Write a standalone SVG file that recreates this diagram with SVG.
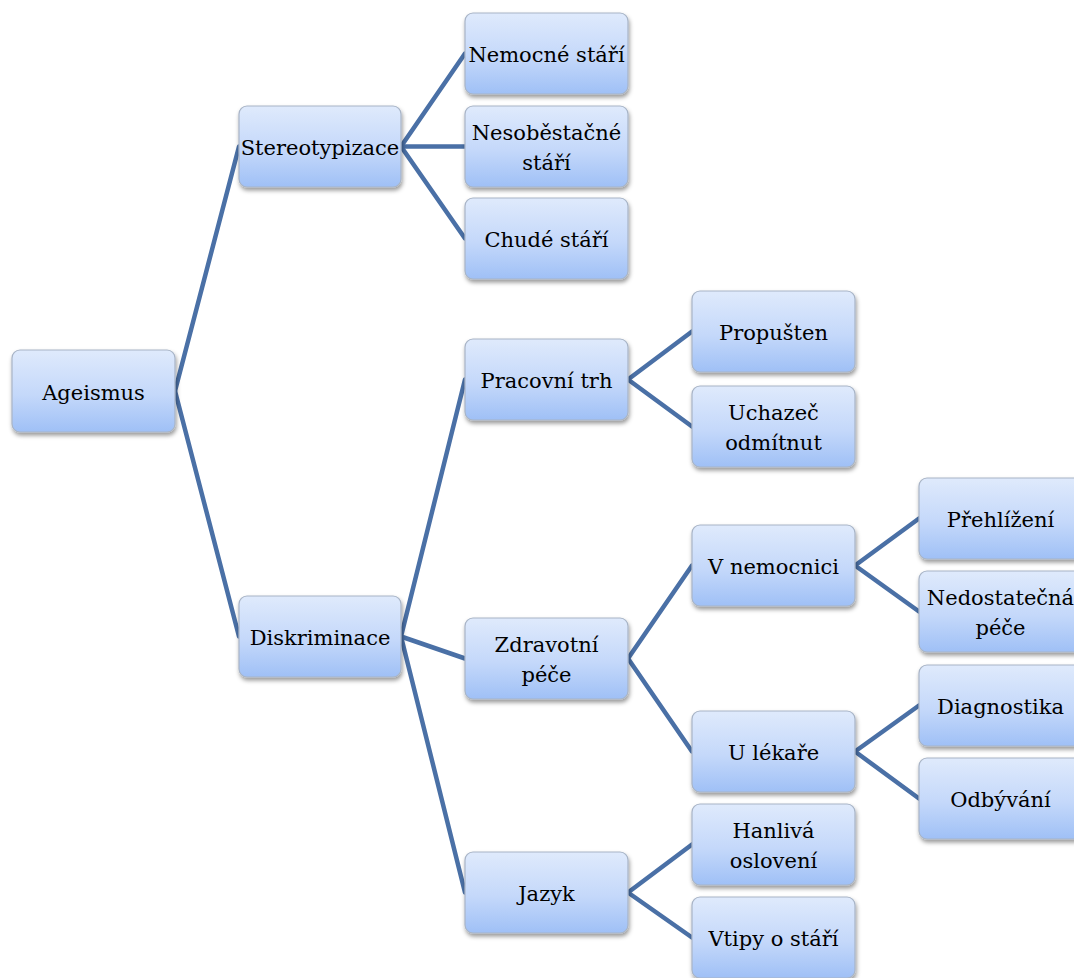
<svg xmlns="http://www.w3.org/2000/svg" width="1074" height="978" viewBox="0 0 1074 978">
<defs>
<linearGradient id="g" x1="0" y1="0" x2="0" y2="1">
<stop offset="0" stop-color="#dfeafc"/>
<stop offset="0.55" stop-color="#c4d8fa"/>
<stop offset="1" stop-color="#9fc0f6"/>
</linearGradient>
<filter id="sh" x="-10%" y="-10%" width="125%" height="135%">
<feDropShadow dx="1" dy="3" stdDeviation="2.2" flood-color="#000" flood-opacity="0.4"/>
</filter>
</defs>
<style>
.n rect{fill:url(#g);stroke:#a8b4c6;stroke-width:1.2;filter:url(#sh)}
.n text{font-family:"DejaVu Serif",serif;font-size:21px;fill:#000;text-anchor:middle}
.c line{stroke:#4a70a6;stroke-width:4.5;stroke-linecap:round}
</style>
<rect width="1074" height="978" fill="#fff"/>
<g class="c" id="connectors">
<line x1="175" y1="391" x2="239" y2="146.5"/>
<line x1="175" y1="391" x2="239" y2="636.5"/>
<line x1="401" y1="146.5" x2="465" y2="53.5"/>
<line x1="401" y1="146.5" x2="465" y2="146.5"/>
<line x1="401" y1="146.5" x2="465" y2="238.5"/>
<line x1="401" y1="636.5" x2="465" y2="379.5"/>
<line x1="401" y1="636.5" x2="465" y2="658.5"/>
<line x1="401" y1="636.5" x2="465" y2="892.5"/>
<line x1="628" y1="379.5" x2="692" y2="331.5"/>
<line x1="628" y1="379.5" x2="692" y2="426.5"/>
<line x1="628" y1="658.5" x2="692" y2="565.5"/>
<line x1="628" y1="658.5" x2="692" y2="751.5"/>
<line x1="628" y1="892.5" x2="692" y2="844.5"/>
<line x1="628" y1="892.5" x2="692" y2="937.5"/>
<line x1="855" y1="565.5" x2="919" y2="518.5"/>
<line x1="855" y1="565.5" x2="919" y2="611.5"/>
<line x1="855" y1="751.5" x2="919" y2="705.5"/>
<line x1="855" y1="751.5" x2="919" y2="798.5"/>
</g>
<g class="n" id="n-ageismus"><rect x="12" y="350" width="163" height="82" rx="8"/><text x="93.5" y="400">Ageismus</text></g>
<g class="n" id="n-stereotypizace"><rect x="239" y="106" width="162" height="81" rx="8"/><text x="320" y="155">Stereotypizace</text></g>
<g class="n" id="n-diskriminace"><rect x="239" y="596" width="162" height="81" rx="8"/><text x="320" y="645">Diskriminace</text></g>
<g class="n" id="n-nemocne"><rect x="465" y="13" width="163" height="81" rx="8"/><text x="546.5" y="62">Nemocné stáří</text></g>
<g class="n" id="n-nesobestacne"><rect x="465" y="106" width="163" height="81" rx="8"/><text x="546.5" y="140">Nesoběstačné</text><text x="546.5" y="170">stáří</text></g>
<g class="n" id="n-chude"><rect x="465" y="198" width="163" height="81" rx="8"/><text x="546.5" y="247">Chudé stáří</text></g>
<g class="n" id="n-pracovni"><rect x="465" y="339" width="163" height="81" rx="8"/><text x="546.5" y="388">Pracovní trh</text></g>
<g class="n" id="n-zdravotni"><rect x="465" y="618" width="163" height="81" rx="8"/><text x="546.5" y="652">Zdravotní</text><text x="546.5" y="682">péče</text></g>
<g class="n" id="n-jazyk"><rect x="465" y="852" width="163" height="81" rx="8"/><text x="546.5" y="901">Jazyk</text></g>
<g class="n" id="n-propusten"><rect x="692" y="291" width="163" height="81" rx="8"/><text x="773.5" y="340">Propušten</text></g>
<g class="n" id="n-uchazec"><rect x="692" y="386" width="163" height="81" rx="8"/><text x="773.5" y="420">Uchazeč</text><text x="773.5" y="450">odmítnut</text></g>
<g class="n" id="n-vnemocnici"><rect x="692" y="525" width="163" height="81" rx="8"/><text x="773.5" y="574">V nemocnici</text></g>
<g class="n" id="n-ulekare"><rect x="692" y="711" width="163" height="81" rx="8"/><text x="773.5" y="760">U lékaře</text></g>
<g class="n" id="n-hanliva"><rect x="692" y="804" width="163" height="81" rx="8"/><text x="773.5" y="838">Hanlivá</text><text x="773.5" y="868">oslovení</text></g>
<g class="n" id="n-vtipy"><rect x="692" y="897" width="163" height="81" rx="8"/><text x="773.5" y="946">Vtipy o stáří</text></g>
<g class="n" id="n-prehlizeni"><rect x="919" y="478" width="163" height="81" rx="8"/><text x="1000.5" y="527">Přehlížení</text></g>
<g class="n" id="n-nedostatecna"><rect x="919" y="571" width="163" height="81" rx="8"/><text x="1000.5" y="605">Nedostatečná</text><text x="1000.5" y="635">péče</text></g>
<g class="n" id="n-diagnostika"><rect x="919" y="665" width="163" height="81" rx="8"/><text x="1000.5" y="714">Diagnostika</text></g>
<g class="n" id="n-odbyvani"><rect x="919" y="758" width="163" height="81" rx="8"/><text x="1000.5" y="807">Odbývání</text></g>
</svg>
